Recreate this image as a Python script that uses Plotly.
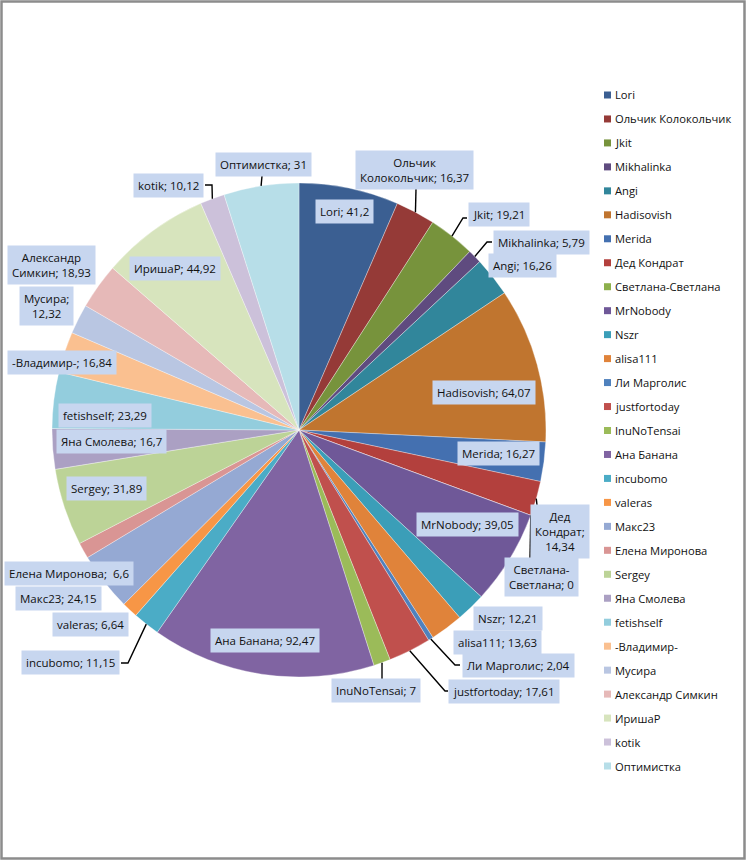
import math
import plotly.graph_objects as go

# ---------------- data ----------------
names = ["Lori", "Ольчик Колокольчик", "Jkit", "Mikhalinka", "Angi", "Hadisovish",
         "Merida", "Дед Кондрат", "Светлана-Светлана", "MrNobody", "Nszr", "alisa111",
         "Ли Марголис", "justfortoday", "InuNoTensai", "Ана Банана", "incubomo", "valeras",
         "Макс23", "Елена Миронова", "Sergey", "Яна Смолева", "fetishself", "-Владимир-",
         "Мусира", "Александр Симкин", "ИришаР", "kotik", "Оптимистка"]
values = [41.2, 16.37, 19.21, 5.79, 16.26, 64.07,
          16.27, 14.34, 0, 39.05, 12.21, 13.63,
          2.04, 17.61, 7, 92.47, 11.15, 6.64,
          24.15, 6.6, 31.89, 16.7, 23.29, 16.84,
          12.32, 18.93, 44.92, 10.12, 31]
colors = ["#3B5F92", "#953A37", "#77933C", "#5F4B7F", "#31869B", "#C0752F",
          "#4470B0", "#B3403D", "#8DB04C", "#6F5898", "#3B9EB8", "#E0833A",
          "#4F81BD", "#C0504D", "#9BBB59", "#8064A2", "#4BACC6", "#F79646",
          "#95A9D3", "#D99594", "#BCD397", "#ABA0C3", "#93CDDD", "#FAC090",
          "#B9C6E2", "#E6B9B8", "#D7E4BD", "#CCC1DA", "#B7DEE8"]
# label text layout (line breaks as in the original)
label_fmt = {1: "Ольчик<br>Колокольчик; {v}", 7: "Дед<br>Кондрат;<br>{v}",
             8: "Светлана-<br>Светлана; {v}", 19: "Елена Миронова;  {v}",
             24: "Мусира;<br>{v}", 25: "Александр<br>Симкин; {v}"}

# ---------------- layout constants (pixels) ----------------
W, H = 746, 861
CX, CY, R = 299, 430, 247
FONT = "Open Sans, Noto Sans, DejaVu Sans"

label_pos = [(344, 211), (414, 170), (499, 215), (541, 242), (522, 265), (484, 392),
             (498, 453), (560, 531), (541, 577), (467, 524), (508, 618), (497, 642),
             (518, 665), (504, 691), (376, 690), (265, 640), (70, 662), (90, 624),
             (58, 598), (69, 573), (106, 488), (112, 441), (105, 415), (62, 362),
             (46, 306), (51, 265), (175, 268), (168, 185), (263, 164)]
# leader elbows (pixels), following the slice-edge point
leaders = {1: [(416, 189)], 2: [(463, 218), (467, 218)], 3: [(487, 242), (492, 242)],
           7: [(537, 505)], 8: [(530, 558)], 12: [(455, 665), (460, 665)],
           13: [(445, 691), (448, 691)], 14: [(382, 679)], 16: [(128, 663), (121, 663)],
           27: [(212, 185), (205, 185)], 28: [(262, 176)]}


def px(x):
    return x / W


def py(y):
    return 1 - y / H


def fmt(v):
    return f"{v:g}".replace(".", ",")


total = sum(values)


def edge(i):
    cum = sum(values[:i]) + values[i] / 2
    a = 2 * math.pi * cum / total
    return CX + R * math.sin(a), CY - R * math.cos(a)


fig = go.Figure(go.Pie(
    labels=names, values=values, sort=False, direction="clockwise", rotation=0,
    marker=dict(colors=colors, line=dict(color="rgba(255,255,255,0.55)", width=0.6)),
    textinfo="none", hoverinfo="label+value", showlegend=False,
    domain=dict(x=[px(CX - R), px(CX + R)], y=[py(CY + R), py(CY - R)]),
))

shapes = []
annotations = []

# frame
shapes.append(dict(type="rect", xref="paper", yref="paper", x0=px(1.5), x1=px(744.5),
                   y0=py(858.5), y1=py(1.5), line=dict(color="#8C8C8C", width=2.5)))

# leader lines
for i, pts in leaders.items():
    ex, ey = edge(i)
    path = f"M {px(ex)} {py(ey)}" + "".join(f" L {px(x)} {py(y)}" for x, y in pts)
    shapes.append(dict(type="path", xref="paper", yref="paper", path=path,
                       line=dict(color="black", width=1.4), layer="above"))

# data labels
for i, (n, v) in enumerate(zip(names, values)):
    txt = label_fmt.get(i, "{n}; {v}").format(n=n, v=fmt(v))
    x, y = label_pos[i]
    annotations.append(dict(x=px(x), y=py(y), xref="paper", yref="paper", text=txt,
                            showarrow=False, xanchor="center", yanchor="middle",
                            align="center", bgcolor="#C7D6EF", borderpad=4,
                            font=dict(family=FONT, size=11.5, color="#111111")))

# legend
LX, LY0, LY1 = 604, 95, 766
step = (LY1 - LY0) / (len(names) - 1)
for i, n in enumerate(names):
    y = LY0 + i * step
    shapes.append(dict(type="rect", xref="paper", yref="paper", x0=px(LX), x1=px(LX + 7),
                       y0=py(y + 3.5), y1=py(y - 3.5), fillcolor=colors[i], line=dict(width=0)))
    annotations.append(dict(x=px(LX + 9), y=py(y), xref="paper", yref="paper", text=n,
                            showarrow=False, xanchor="left", yanchor="middle",
                            font=dict(family=FONT, size=11.2, color="#111111")))

fig.update_layout(width=W, height=H, margin=dict(l=0, r=0, t=0, b=0),
                  paper_bgcolor="white", plot_bgcolor="white",
                  shapes=shapes, annotations=annotations)
fig.write_html("out.html", config={"displayModeBar": False},
               post_script="document.body.style.margin='0';document.body.style.overflow='hidden';")
